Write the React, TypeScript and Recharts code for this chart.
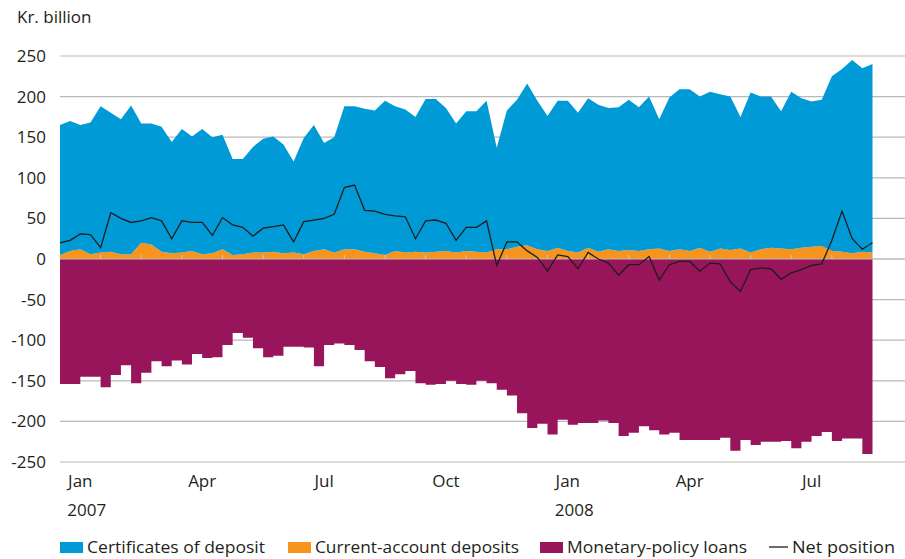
import React from "react";
import { ComposedChart, Area, Line, XAxis, YAxis, CartesianGrid, ReferenceLine } from "recharts";

// time in months from 1 Jan 2007
const months = [
  0, 0.25, 0.5, 0.75, 1, 1.25, 1.5, 1.75, 2, 2.25, 2.5, 2.75, 3, 3.25, 3.5, 3.75,
  4, 4.25, 4.5, 4.75, 5, 5.25, 5.5, 5.75, 6, 6.25, 6.5, 6.75, 7, 7.25, 7.5, 7.75,
  8, 8.25, 8.5, 8.75, 9, 9.25, 9.5, 9.75, 10, 10.25, 10.5, 10.75, 11, 11.25, 11.5, 11.75,
  12, 12.25, 12.5, 12.75, 13, 13.25, 13.5, 13.75, 14, 14.25, 14.5, 14.75, 15, 15.25, 15.5, 15.75,
  16, 16.25, 16.5, 16.75, 17, 17.25, 17.5, 17.75, 18, 18.25, 18.5, 18.75, 19, 19.25, 19.5, 19.75, 20,
];

const currentAccount = [
  5, 10, 12, 6, 8, 9, 6, 6, 20, 18, 9, 7, 8, 10, 6, 7,
  12, 5, 6, 8, 8, 9, 7, 8, 6, 10, 12, 8, 12, 12, 9, 7,
  5, 10, 8, 9, 8, 9, 10, 8, 10, 9, 8, 12, 12, 15, 17, 12,
  10, 14, 10, 8, 14, 9, 12, 10, 11, 10, 12, 13, 10, 12, 10, 14,
  9, 13, 11, 13, 8, 12, 14, 13, 12, 14, 15, 16, 10, 9, 7, 9, 8,
];

const certificates = [
  160, 160, 153, 162, 180, 171, 166, 183, 147, 149, 154, 137, 152, 141, 154, 143,
  141, 118, 117, 130, 140, 142, 134, 112, 143, 155, 131, 142, 176, 176, 176, 176,
  190, 178, 176, 166, 189, 188, 176, 159, 172, 173, 187, 125, 171, 181, 199, 183,
  166, 181, 185, 172, 184, 181, 174, 177, 185, 177, 188, 159, 189, 197, 199, 186,
  197, 190, 189, 162, 197, 188, 186, 169, 194, 184, 179, 180, 215, 225, 238, 226, 232,
];

const loans = [
  -154, -154, -145, -145, -158, -143, -131, -153, -140, -126, -132, -125, -130, -117, -122, -121,
  -106, -91, -97, -110, -121, -119, -108, -108, -109, -132, -106, -104, -106, -112, -126, -133,
  -147, -142, -138, -153, -155, -154, -150, -154, -155, -150, -153, -161, -168, -190, -208, -203,
  -216, -198, -204, -202, -202, -199, -202, -218, -214, -206, -211, -216, -214, -223, -223, -223,
  -223, -220, -236, -223, -229, -225, -225, -224, -233, -225, -218, -213, -224, -221, -221, -240, -228,
];

const netPosition = [
  20, 23, 31, 30, 14, 57, 50, 45, 47, 51, 47, 25, 47, 45, 45, 29,
  51, 42, 39, 28, 38, 40, 42, 21, 46, 48, 50, 55, 88, 91, 60, 59,
  55, 53, 52, 25, 47, 48, 44, 23, 39, 39, 47, -8, 21, 21, 10, 2,
  -15, 5, 3, -12, 8, 0, -5, -20, -7, -7, 3, -26, -7, -3, -3, -15,
  -5, -6, -28, -40, -13, -11, -12, -25, -17, -13, -8, -6, 23, 59, 25, 12, 20,
];

const monthTicks = [0.5, 3.5, 6.5, 9.5, 12.5, 15.5, 18.5];
const monthLabels = ["Jan", "Apr", "Jul", "Oct", "Jan", "Apr", "Jul"];
const yearLabels = ["2007", "", "", "", "2008", "", ""];
const monthStarts = [0, 1, 2, 3, 4, 5, 6, 7, 8, 9, 10, 11, 12, 13, 14, 15, 16, 17, 18, 19, 20];
const yTicks = [-250, -200, -150, -100, -50, 0, 50, 100, 150, 200, 250];

const legendItems = [
  { name: "Certificates of deposit", color: "#009bd6", kind: "box", x: 60, w: 178 },
  { name: "Current-account deposits", color: "#f7941d", kind: "box", x: 288, w: 204 },
  { name: "Monetary-policy loans", color: "#98155b", kind: "box", x: 540, w: 180 },
  { name: "Net position", color: "#1d1d1b", kind: "line", x: 769, w: 103 },
];

const data = months.map((m, i) => ({
  m,
  current: currentAccount[i],
  cd: certificates[i],
  loans: loans[i],
  net: netPosition[i],
}));

const FONT = "'Open Sans', sans-serif";
const TEXT = "#231f20";

const MonthTick = (props: any) => {
  const { x, payload } = props;
  const i = monthTicks.indexOf(payload.value);
  return (
    <g>
      <text x={x} y={487} textAnchor="middle" fontSize={17} fill={TEXT} fontFamily={FONT}>
        {monthLabels[i]}
      </text>
      {yearLabels[i] && (
        <text x={x - 13} y={516} textAnchor="start" fontSize={17} fill={TEXT} fontFamily={FONT}>
          {yearLabels[i]}
        </text>
      )}
    </g>
  );
};

export default function App() {
  return (
    <div style={{ position: "absolute", left: 0, top: 0, width: 905, height: 559, background: "#fff", fontFamily: FONT }}>
      <div style={{ position: "absolute", left: 17, top: 9, fontSize: 17, lineHeight: "16px", color: TEXT }}>
        Kr. billion
      </div>
      <ComposedChart width={905} height={559} data={data} margin={{ top: 56, right: 0, bottom: 67, left: 0 }}>
        <CartesianGrid vertical={false} stroke="#b9b9b9" strokeWidth={1.2} />
        <XAxis
          dataKey="m"
          type="number"
          domain={[0, 20.8]}
          ticks={monthTicks}
          tick={<MonthTick />}
          axisLine={false}
          tickLine={false}
          height={30}
          interval={0}
        />
        <YAxis
          type="number"
          domain={[-250, 250]}
          ticks={yTicks}
          width={60}
          axisLine={false}
          tickLine={false}
          tickMargin={8}
          tick={{ fontSize: 17, fill: TEXT, fontFamily: FONT }}
          interval={0}
        />
        <Area
          dataKey="current"
          stackId="pos"
          type="linear"
          fill="#f7941d"
          stroke="none"
          fillOpacity={1}
          baseValue={0}
          isAnimationActive={false}
        />
        <Area
          dataKey="cd"
          stackId="pos"
          type="linear"
          fill="#009bd6"
          stroke="none"
          fillOpacity={1}
          isAnimationActive={false}
        />
        <Area
          dataKey="loans"
          type="stepAfter"
          fill="#98155b"
          stroke="none"
          fillOpacity={1}
          baseValue={0}
          isAnimationActive={false}
        />
        <ReferenceLine y={0} stroke="#b9b9b9" strokeWidth={1.2} />
        {monthStarts.map((s) => (
          <ReferenceLine
            key={s}
            segment={[{ x: s, y: 0 }, { x: s, y: 5 }]}
            stroke="#c8c8c8"
            strokeWidth={1}
          />
        ))}
        <Line
          dataKey="net"
          type="linear"
          stroke="#1d1d1b"
          strokeWidth={1.3}
          dot={false}
          isAnimationActive={false}
        />
      </ComposedChart>
      <svg width={905} height={30} style={{ position: "absolute", left: 0, top: 530 }}>
        {legendItems.map((it) => (
          <g key={it.name}>
            {it.kind === "box" ? (
              <rect x={it.x} y={12} width={23} height={11} fill={it.color} />
            ) : (
              <line x1={it.x} x2={it.x + 19} y1={17} y2={17} stroke={it.color} strokeWidth={1.3} />
            )}
            <text
              x={it.kind === "box" ? it.x + 27 : it.x + 23}
              y={23}
              fontSize={17}
              fill={TEXT}
              fontFamily={FONT}
              textLength={it.w}
              lengthAdjust="spacingAndGlyphs"
            >
              {it.name}
            </text>
          </g>
        ))}
      </svg>
    </div>
  );
}
